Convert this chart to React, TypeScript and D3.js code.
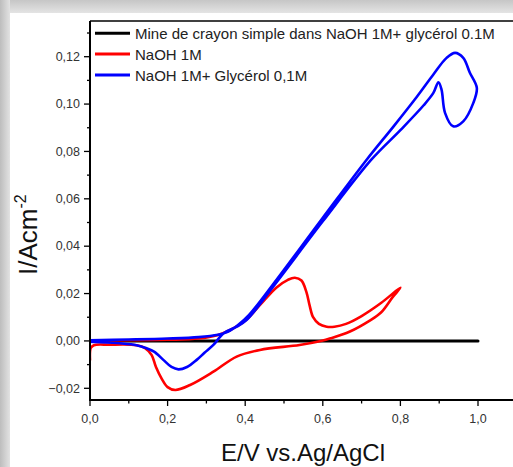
import React from "react";
import * as d3 from "d3";

const W = 513;
const H = 467;

const legendLabels = [
  "Mine de crayon simple dans NaOH 1M+ glycérol 0.1M",
  "NaOH 1M",
  "NaOH 1M+ Glycérol 0,1M",
];
const seriesColors = ["#000000", "#ff0000", "#0000ff"];

const pencilE = [0.0, 1.0];
const pencilI = [0.0, 0.0];

const naohE = [
  0.0, 0.1, 0.2, 0.28, 0.33, 0.36, 0.4, 0.44, 0.48, 0.51, 0.528, 0.545, 0.558, 0.566, 0.575,
  0.59, 0.61, 0.63, 0.66, 0.7, 0.75, 0.8, 0.78, 0.75, 0.72, 0.67, 0.62, 0.595, 0.54, 0.438,
  0.378, 0.318, 0.258, 0.22, 0.2, 0.185, 0.17, 0.159, 0.142, 0.12, 0.05, 0.01, 0.002, 0.0,
];
const naohI = [
  0.0002, 0.0003, 0.0005, 0.001, 0.0025, 0.0045, 0.0085, 0.0155, 0.0225, 0.0258, 0.0267,
  0.0255, 0.0205, 0.015, 0.01, 0.0072, 0.006, 0.006, 0.0072, 0.0105, 0.016, 0.0225, 0.0185,
  0.012, 0.0085, 0.004, 0.0011, 0.0, -0.0017, -0.0038, -0.0066, -0.013, -0.0186, -0.0207,
  -0.0195, -0.016, -0.011, -0.006, -0.003, -0.0018, -0.0016, -0.0018, -0.003, -0.008,
];

const glyE = [
  0.0, 0.1, 0.2, 0.28, 0.33, 0.355, 0.38, 0.41, 0.47, 0.6, 0.713, 0.782, 0.842, 0.885, 0.919,
  0.941, 0.962, 0.979, 0.997, 0.988, 0.962, 0.936, 0.915, 0.906, 0.898, 0.885, 0.86, 0.8,
  0.725, 0.6, 0.47, 0.404, 0.378, 0.344, 0.318, 0.295, 0.275, 0.25, 0.228, 0.21, 0.189, 0.165,
  0.146, 0.12, 0.077, 0.01, 0.0,
];
const glyI = [
  0.0003, 0.0006, 0.001, 0.0016, 0.0026, 0.0038, 0.0065, 0.011, 0.0235, 0.052, 0.0765, 0.0905,
  0.103, 0.1125, 0.1195, 0.1216, 0.1195, 0.1132, 0.1068, 0.1005, 0.0927, 0.0906, 0.0963,
  0.1061, 0.1092, 0.1047, 0.0995, 0.089, 0.0765, 0.0505, 0.0225, 0.0089, 0.006, 0.0032,
  -0.0017, -0.005, -0.008, -0.011, -0.012, -0.011, -0.008, -0.0045, -0.0031, -0.0018, -0.001,
  -0.0004, -0.0003,
];

const xMajor = [0, 0.2, 0.4, 0.6, 0.8, 1.0];
const xMinor = [0.1, 0.3, 0.5, 0.7, 0.9, 1.1];
const yMajor = [-0.02, 0, 0.02, 0.04, 0.06, 0.08, 0.1, 0.12];
const yMinor = [-0.01, 0.01, 0.03, 0.05, 0.07, 0.09, 0.11, 0.13];

const FONT = "'Liberation Sans', Arial, sans-serif";

export default function App() {
  const x = d3.scaleLinear().domain([0, 1]).range([90, 478]);
  const y = d3.scaleLinear().domain([-0.02, 0.12]).range([388.3, 56.7]);
  const plotTop = 21;
  const plotBottom = 400;
  const plotLeft = x(0);
  const plotRight = W + 10;

  const loc = d3.formatLocale({ decimal: ",", thousands: ".", grouping: [3], currency: ["", ""] });
  const fx = loc.format(".1f");
  const fy = loc.format(".2f");

  const line = d3
    .line<[number, number]>()
    .x((d) => x(d[0]))
    .y((d) => y(d[1]))
    .curve(d3.curveCatmullRom.alpha(0.5));

  const zip = (a: number[], b: number[]) => a.map((v, i) => [v, b[i]] as [number, number]);
  const series = [
    zip(pencilE, pencilI),
    zip(naohE, naohI),
    zip(glyE, glyI),
  ];

  return (
    <svg
      width={W}
      height={H}
      style={{ position: "absolute", left: 0, top: 0, display: "block" }}
      fontFamily={FONT}
    >
      <defs>
        <linearGradient id="gTop" x1="0" y1="0" x2="0" y2="1">
          <stop offset="0" stopColor="#c6c6c6" />
          <stop offset="1" stopColor="#e4e4e4" />
        </linearGradient>
        <linearGradient id="gLeft" x1="0" y1="0" x2="1" y2="0">
          <stop offset="0" stopColor="#bdbdbd" />
          <stop offset="1" stopColor="#e2e2e2" />
        </linearGradient>
        <clipPath id="clipPlot">
          <rect x={plotLeft} y={plotTop} width={plotRight - plotLeft} height={plotBottom - plotTop} />
        </clipPath>
      </defs>
      <rect x={0} y={0} width={W} height={H} fill="#d0d0d0" />
      <rect x={0} y={0} width={W} height={13} fill="url(#gTop)" />
      <rect x={0} y={0} width={10} height={H} fill="url(#gLeft)" />
      <rect x={10} y={13} width={W - 10} height={H - 13} fill="#ffffff" />

      {/* data */}
      <g clipPath="url(#clipPlot)">
        {series.map((s, i) => (
          <path
            key={i}
            d={line(s) || ""}
            fill="none"
            stroke={seriesColors[i]}
            strokeWidth={i === 0 ? 3 : 2.6}
            strokeLinejoin="round"
            strokeLinecap="round"
          />
        ))}
      </g>

      {/* frame */}
      <line x1={plotLeft} x2={plotRight} y1={plotTop} y2={plotTop} stroke="#000" strokeWidth={1.5} />
      <line x1={plotLeft} x2={plotLeft} y1={plotTop} y2={plotBottom + 1} stroke="#000" strokeWidth={2} />
      <line x1={plotLeft - 1} x2={plotRight} y1={plotBottom} y2={plotBottom} stroke="#000" strokeWidth={2} />

      {/* y ticks */}
      {yMajor.map((v) => (
        <g key={"ym" + v}>
          <line x1={plotLeft - 6} x2={plotLeft} y1={y(v)} y2={y(v)} stroke="#000" strokeWidth={1.3} />
          <text x={plotLeft - 10} y={y(v) + 4.3} fontSize={12.5} textAnchor="end" fill="#333">
            {fy(v)}
          </text>
        </g>
      ))}
      {yMinor.map((v) => (
        <line key={"yn" + v} x1={plotLeft - 3} x2={plotLeft} y1={y(v)} y2={y(v)} stroke="#000" strokeWidth={1.3} />
      ))}

      {/* x ticks */}
      {xMajor.map((v) => (
        <g key={"xm" + v}>
          <line x1={x(v)} x2={x(v)} y1={plotBottom} y2={plotBottom + 6} stroke="#000" strokeWidth={1.3} />
          <text x={x(v)} y={423} fontSize={12.5} textAnchor="middle" fill="#333">
            {fx(v)}
          </text>
        </g>
      ))}
      {xMinor.map((v) => (
        <line key={"xn" + v} x1={x(v)} x2={x(v)} y1={plotBottom} y2={plotBottom + 3.5} stroke="#000" strokeWidth={1.3} />
      ))}

      {/* legend */}
      {legendLabels.map((lab, i) => {
        const yy = 33.3 + i * 20.8;
        return (
          <g key={lab}>
            <line x1={95} x2={130} y1={yy} y2={yy} stroke={seriesColors[i]} strokeWidth={3} />
            <text x={135} y={yy + 5.6} fontSize={15} fill="#222">
              {lab}
            </text>
          </g>
        );
      })}

      {/* axis titles */}
      <text x={303} y={461} fontSize={24} textAnchor="middle" fill="#111">
        E/V vs.Ag/AgCl
      </text>
      <g transform="translate(37,275) rotate(-90)">
        <text x={0} y={0} fontSize={26} fill="#111">
          I/Acm
          <tspan fontSize={16} dy={-11}>-2</tspan>
        </text>
      </g>
    </svg>
  );
}
